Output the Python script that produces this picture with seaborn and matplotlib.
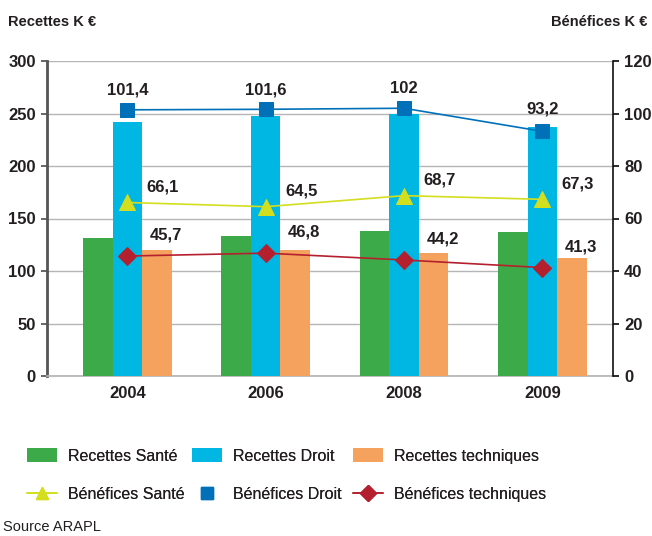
import numpy as np
import pandas as pd
import matplotlib
matplotlib.use("Agg")
import matplotlib.pyplot as plt
import seaborn as sns
from matplotlib.patches import Patch
from matplotlib.lines import Line2D

years = ["2004", "2006", "2008", "2009"]
recettes_sante = [131, 133, 138, 137]
recettes_droit = [242, 248, 250, 237]
recettes_tech = [120, 120, 117, 112]
benef_sante = [66.1, 64.5, 68.7, 67.3]
benef_droit = [101.4, 101.6, 102, 93.2]
benef_tech = [45.7, 46.8, 44.2, 41.3]

sns.set_theme(style="white")
plt.rcParams["font.family"] = ["Liberation Sans", "DejaVu Sans"]

c_green = "#3DAA4A"
c_blue = "#00B6E3"
c_orange = "#F5A25E"
c_yel = "#D3DF1E"
c_dblue = "#0071B9"
c_red = "#B5202E"
txt = "#231F20"

df = pd.DataFrame({
    "year": years * 3,
    "value": recettes_sante + recettes_droit + recettes_tech,
    "serie": ["Recettes Santé"] * 4 + ["Recettes Droit"] * 4 + ["Recettes techniques"] * 4,
})

fig = plt.figure(figsize=(6.52, 5.36), dpi=100)
ax = fig.add_axes([47 / 652, 1 - 376 / 536, (613 - 47) / 652, (376 - 61) / 536])
sns.barplot(data=df, x="year", y="value", hue="serie",
            palette=[c_green, c_blue, c_orange], width=0.64, ax=ax,
            legend=False, saturation=1, zorder=3, edgecolor="none")
ax.set_ylim(0, 300)
ax.set_xlim(-0.58, 3.51)
ax.set_yticks(range(0, 301, 50))
ax.yaxis.grid(True, color="#B5B5B5", linewidth=1, zorder=0)
ax.set_axisbelow(True)
ax.set_xlabel("")
ax.set_ylabel("")
for s in ["top", "right"]:
    ax.spines[s].set_visible(False)
ax.spines["left"].set_color("#555555")
ax.spines["left"].set_linewidth(2)
ax.spines["bottom"].set_color("#B5B5B5")
ax.tick_params(axis="y", left=True, length=4, color="#555555", labelsize=12, labelcolor=txt, pad=4)
ax.tick_params(axis="x", bottom=False, labelsize=12, labelcolor=txt, pad=1)
for lab in ax.get_yticklabels() + ax.get_xticklabels():
    lab.set_fontweight("bold")

ax2 = ax.twinx()
xs = np.arange(len(years))
sns.lineplot(x=xs, y=benef_sante, ax=ax2, color=c_yel, linewidth=1.2,
             marker="^", markersize=11, markeredgecolor=c_yel, zorder=5)
sns.lineplot(x=xs, y=benef_droit, ax=ax2, color=c_dblue, linewidth=1.2,
             marker="s", markersize=10, markeredgecolor=c_dblue, zorder=5)
sns.lineplot(x=xs, y=benef_tech, ax=ax2, color=c_red, linewidth=1.2,
             marker="D", markersize=9, markeredgecolor=c_red, zorder=5)
ax2.set_ylim(0, 120)
ax2.set_yticks(range(0, 121, 20))
ax2.set_ylabel("")
for s in ["top", "left", "bottom"]:
    ax2.spines[s].set_visible(False)
ax2.spines["right"].set_color("#111111")
ax2.spines["right"].set_linewidth(1.2)
ax2.tick_params(axis="y", right=True, length=4, color="#111111", labelsize=12, labelcolor=txt, pad=4)
for lab in ax2.get_yticklabels():
    lab.set_fontweight("bold")

def fmt(v):
    return f"{v:g}".replace(".", ",")

for i in range(len(years)):
    off = 14 if i < 3 else 16
    ax2.annotate(fmt(benef_droit[i]), (xs[i], benef_droit[i]), xytext=(0, off),
                 textcoords="offset points", ha="center", va="center",
                 fontsize=12, fontweight="bold", color=txt, zorder=6)
    ax2.annotate(fmt(benef_sante[i]), (xs[i], benef_sante[i]), xytext=(14, 11),
                 textcoords="offset points", ha="left", va="center",
                 fontsize=12, fontweight="bold", color=txt, zorder=6)
    ax2.annotate(fmt(benef_tech[i]), (xs[i], benef_tech[i]), xytext=(16, 15),
                 textcoords="offset points", ha="left", va="center",
                 fontsize=12, fontweight="bold", color=txt, zorder=6)

fig.text(8 / 652, 1 - 22 / 536, "Recettes K €", ha="left", va="center",
         fontsize=10.5, fontweight="bold", color=txt)
fig.text(647 / 652, 1 - 22 / 536, "Bénéfices K €", ha="right", va="center",
         fontsize=10.5, fontweight="bold", color=txt)

cols = [
    (27, [Patch(facecolor=c_green, edgecolor="none"),
          Line2D([0], [0], color=c_yel, marker="^", markersize=9, linewidth=1.2)],
     ["Recettes Santé", "Bénéfices Santé"]),
    (192, [Patch(facecolor=c_blue, edgecolor="none"),
           Line2D([0], [0], color="none", marker="s", markersize=8,
                  markerfacecolor=c_dblue, markeredgecolor=c_dblue)],
     ["Recettes Droit", "Bénéfices Droit"]),
    (353, [Patch(facecolor=c_orange, edgecolor="none"),
           Line2D([0], [0], color=c_red, marker="D", markersize=8, linewidth=1.2)],
     ["Recettes techniques", "Bénéfices techniques"]),
]
fs = 11.5
for x0, hs, ls in cols:
    leg = fig.legend(hs, ls, ncol=1, loc="upper left",
                     bbox_to_anchor=(x0 / 652, 1 - 448 / 536),
                     frameon=False, prop={"size": fs}, handlelength=1.9,
                     handleheight=1.0, handletextpad=0.65, labelspacing=1.45,
                     labelcolor=txt, borderaxespad=0, borderpad=0)
    fig.add_artist(leg)

fig.text(3 / 652, 1 - 527 / 536, "Source ARAPL", ha="left", va="center",
         fontsize=10.5, color=txt)

fig.savefig("out.png", dpi=100)
